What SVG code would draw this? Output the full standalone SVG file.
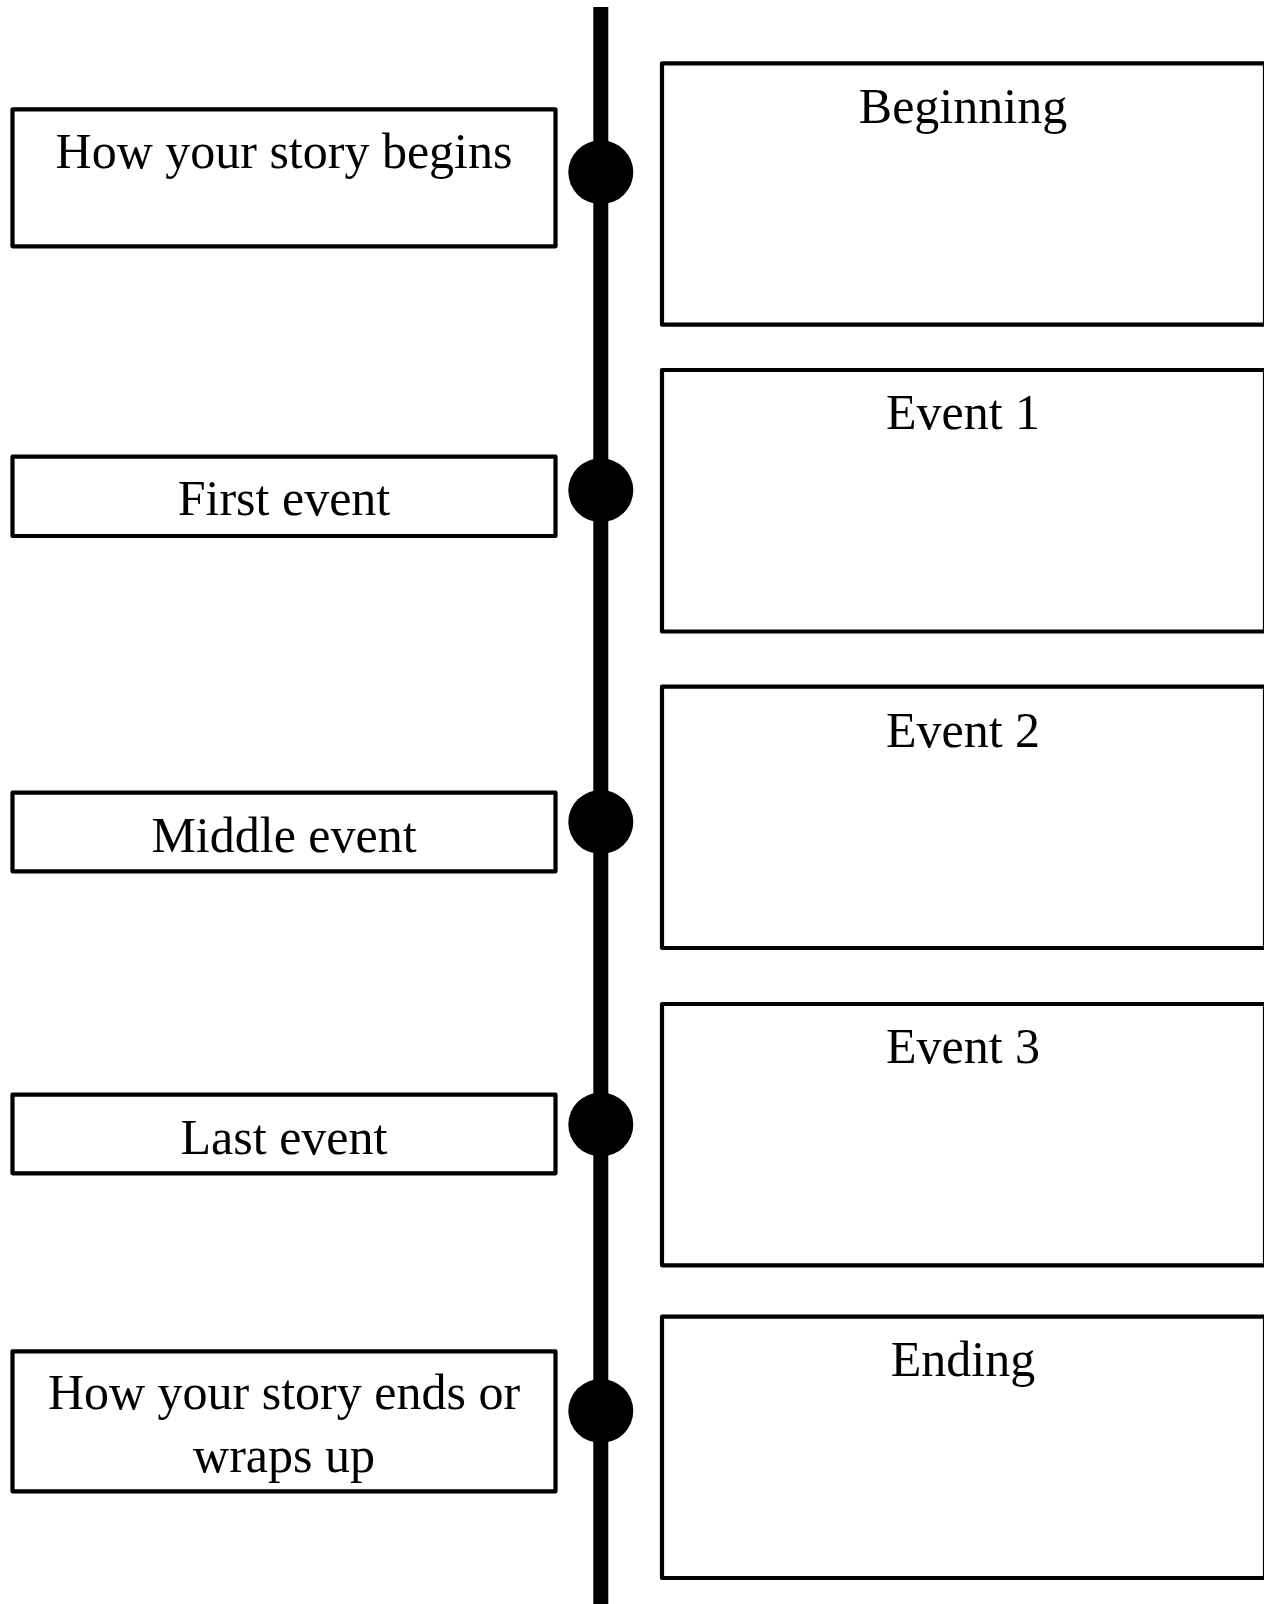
<svg xmlns="http://www.w3.org/2000/svg" width="1264" height="1604" viewBox="0 0 1264 1604">
  <style>
    .box { fill: #ffffff; stroke: #000000; stroke-width: 4.2; stroke-linejoin: round; }
    .lbl { font-family: "Liberation Serif", "Times New Roman", serif; font-size: 50px; fill: #000000; text-anchor: middle; }
    .dot { fill: #000000; }
  </style>
  <rect x="0" y="0" width="1264" height="1604" fill="#ffffff"/>

  <g id="connectors">
    <rect x="593.3" y="7" width="15" height="1597" fill="#000000"/>
    <ellipse class="dot" cx="600.8" cy="172.3" rx="32.5" ry="32"/>
    <ellipse class="dot" cx="600.8" cy="490.2" rx="32.5" ry="32"/>
    <ellipse class="dot" cx="600.8" cy="822" rx="32.5" ry="32"/>
    <ellipse class="dot" cx="600.8" cy="1124.5" rx="32.5" ry="32"/>
    <ellipse class="dot" cx="600.8" cy="1411" rx="32.5" ry="32"/>
  </g>

  <g id="node-begins">
    <rect class="box" x="12.5" y="109.3" width="543" height="137"/>
    <text class="lbl" x="284" y="167.7">How your story begins</text>
  </g>
  <g id="node-first">
    <rect class="box" x="12.5" y="456.7" width="543" height="79.3"/>
    <text class="lbl" x="284" y="515">First event</text>
  </g>
  <g id="node-middle">
    <rect class="box" x="12.5" y="792.7" width="543" height="78.6"/>
    <text class="lbl" x="284" y="851.7">Middle event</text>
  </g>
  <g id="node-last">
    <rect class="box" x="12.5" y="1094.7" width="543" height="78.6"/>
    <text class="lbl" x="284" y="1154">Last event</text>
  </g>
  <g id="node-ends">
    <rect class="box" x="12.5" y="1351.3" width="543" height="140"/>
    <text class="lbl" x="284" y="1409.3">How your story ends or</text>
    <text class="lbl" x="284" y="1471.7">wraps up</text>
  </g>

  <g id="node-beginning">
    <rect class="box" x="662" y="63.3" width="603" height="261.4"/>
    <text class="lbl" x="963" y="122.7">Beginning</text>
  </g>
  <g id="node-event1">
    <rect class="box" x="662" y="370" width="603" height="261.5"/>
    <text class="lbl" x="963" y="429.3">Event 1</text>
  </g>
  <g id="node-event2">
    <rect class="box" x="662" y="686.7" width="603" height="261.3"/>
    <text class="lbl" x="963" y="746.7">Event 2</text>
  </g>
  <g id="node-event3">
    <rect class="box" x="662" y="1004" width="603" height="261.3"/>
    <text class="lbl" x="963" y="1062.7">Event 3</text>
  </g>
  <g id="node-ending">
    <rect class="box" x="662" y="1316.7" width="603" height="261.3"/>
    <text class="lbl" x="963" y="1376">Ending</text>
  </g>
</svg>
